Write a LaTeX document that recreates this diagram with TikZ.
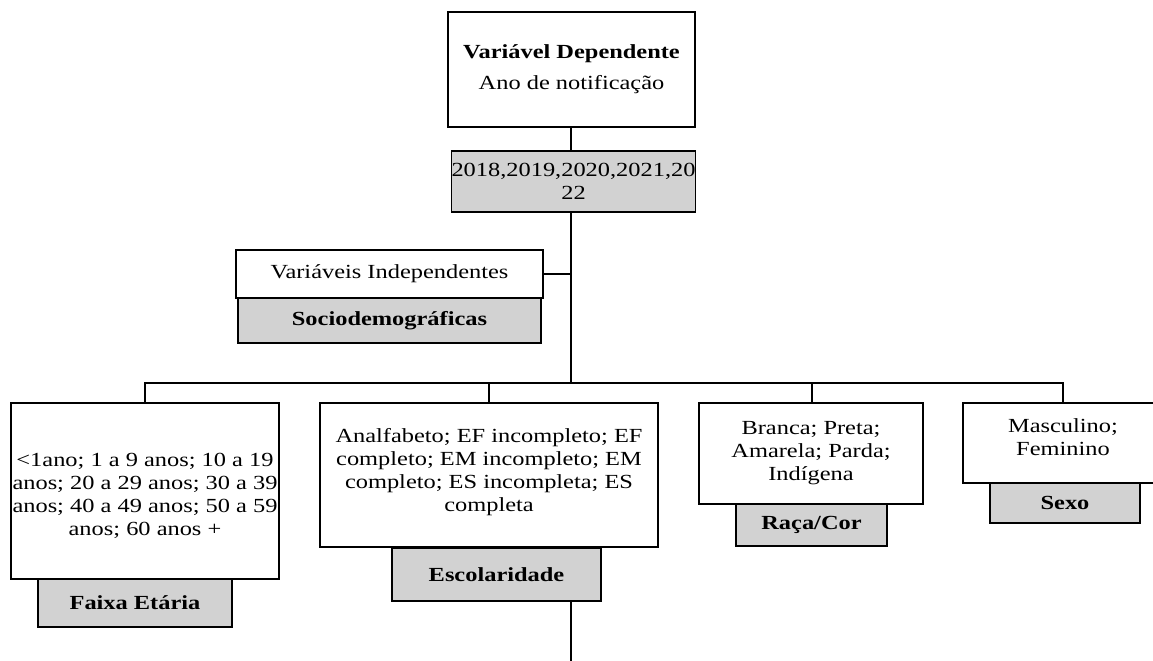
\documentclass[tikz,border=0pt]{standalone}
\usepackage{fontspec}
\setmainfont{Liberation Serif}[FakeStretch=1.22]
\usetikzlibrary{positioning}

\tikzset{
  box/.style={draw, line width=0.7pt, fill=white, align=center, inner sep=0pt,
    font=\fontsize{12}{13.8}\selectfont},
  lbl/.style={box, fill=gray!35, font=\fontsize{12}{13.8}\selectfont\bfseries},
  link/.style={line width=1pt}
}

\begin{document}
\begin{tikzpicture}[x=0.6pt, y=-0.6pt]
  \clip (0,0) rectangle (1153,661);
  \node[box, minimum width=148.2pt, minimum height=69pt] (dep) at (571.5,69.5)
    {\textbf{Variável Dependente}\\[5pt]Ano de notificação};
  \node[lbl, font=\fontsize{12}{13.8}\selectfont, minimum width=144.6pt, minimum height=36.6pt] (years) at (573.5,181.5)
    {2018,2019,2020,2021,20\\22};
  \node[box, minimum width=184.2pt, minimum height=28.8pt] (indep) at (389.5,274) {Variáveis Independentes};
  \node[lbl, minimum width=181.8pt, minimum height=27pt] (socio) at (389.5,320.5) {Sociodemográficas};

  \node[box, minimum width=160.8pt, minimum height=105.6pt] (faixa) at (145,491)
    {\\<1ano; 1 a 9 anos; 10 a 19\\anos; 20 a 29 anos; 30 a 39\\anos; 40 a 49 anos; 50 a 59\\anos; 60 anos +};
  \node[lbl, minimum width=116.4pt, minimum height=28.8pt] (faixalbl) at (135,603) {Faixa Etária};
  \node[box, minimum width=202.8pt, minimum height=86.4pt] (escol) at (489,475)
    {Analfabeto; EF incompleto; EF\\completo; EM incompleto; EM\\completo; ES incompleta; ES\\completa\\[-7.8pt]};
  \node[lbl, minimum width=125.4pt, minimum height=31.8pt] (escollbl) at (496.5,574.5) {Escolaridade};
  \node[box, minimum width=134.4pt, minimum height=60.6pt] (raca) at (811,453.5)
    {Branca; Preta;\\Amarela; Parda;\\Indígena};
  \node[lbl, minimum width=90.6pt, minimum height=25.2pt] (racalbl) at (811.5,525) {Raça/Cor};
  \node[box, minimum width=120pt, minimum height=48pt] (sexo) at (1063,443)
    {Masculino;\\Feminino\\[-6.6pt]};
  \node[lbl, minimum width=90pt, minimum height=24pt] (sexolbl) at (1065,503) {Sexo};

  \coordinate (bus) at (571,383);
  \coordinate (tail) at (571,661);
  \draw[link] (571,127) -- (571,151);
  \draw[link] (571,212) -- (bus);
  \draw[link] (indep.east) -- (indep.east -| bus);
  \draw[link] (faixa.north) -- (faixa.north |- bus) -- (sexo.north |- bus) -- (sexo.north);
  \draw[link] (escol.north) -- (escol.north |- bus);
  \draw[link] (812,403) -- (812,383);
  \draw[link] (571,601) -- (tail);
\end{tikzpicture}
\end{document}
